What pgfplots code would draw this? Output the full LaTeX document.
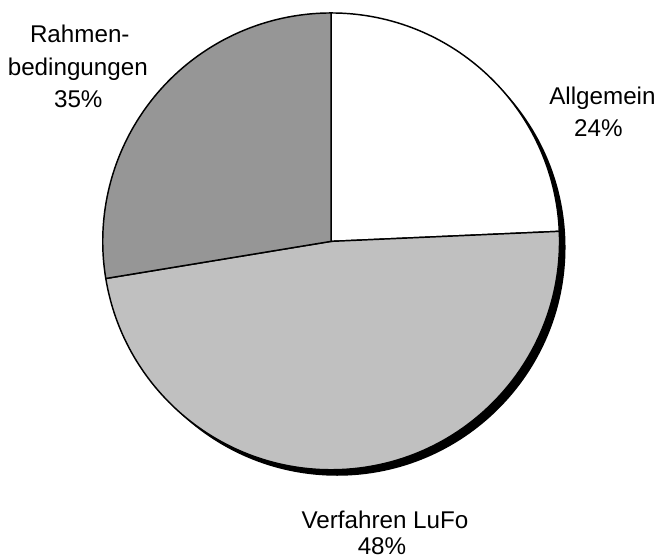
\documentclass[border=0pt]{standalone}
\usepackage{fontspec}
\setmainfont{Liberation Sans}
\usepackage{pgfplots}
\usepackage{pgfplotstable}
\pgfplotsset{compat=1.18}

\definecolor{sliceA}{RGB}{255,255,255}
\definecolor{sliceB}{RGB}{192,192,192}
\definecolor{sliceC}{RGB}{150,150,150}

% share of the circle (percent) per slice, clockwise from 12 o'clock
\pgfplotstableread{
share
24.3
48.1
27.6
}\piedata

\begin{document}
\begin{tikzpicture}
\pgfplotstablegetelem{0}{share}\of\piedata \let\sA\pgfplotsretval
\pgfplotstablegetelem{1}{share}\of\piedata \let\sB\pgfplotsretval
\pgfmathsetmacro\aA{90-3.6*\sA}
\pgfmathsetmacro\aB{\aA-3.6*\sB}
\def\R{171.75pt}
\tikzset{lbl/.style={anchor=base, font=\fontsize{18.2}{24}\selectfont}}
\begin{axis}[x=0.75pt, y=0.75pt, xmin=0, xmax=660, ymin=0, ymax=560,
    hide axis, clip=false]
\path (axis cs:0,0) rectangle (axis cs:660,560);
% shadow
\fill[black] (axis cs:338,312) circle[radius=\R];
\filldraw[fill=sliceA, draw=black, line width=1.1pt]
  (axis cs:332,318) -- ++(90:\R) arc[start angle=90, end angle=\aA, radius=\R] -- cycle;
\filldraw[fill=sliceB, draw=black, line width=1.1pt]
  (axis cs:332,318) -- ++(\aA:\R) arc[start angle=\aA, end angle=\aB, radius=\R] -- cycle;
\filldraw[fill=sliceC, draw=black, line width=1.1pt]
  (axis cs:332,318) -- ++(\aB:\R) arc[start angle=\aB, end angle=-270, radius=\R] -- cycle;
\node[lbl] at (axis cs:80,517) {Rahmen-};
\node[lbl] at (axis cs:78,484) {bedingungen};
\node[lbl] at (axis cs:78.5,452) {35\%};
\node[lbl] at (axis cs:604,455) {Allgemein};
\node[lbl] at (axis cs:600,423) {24\%};
\node[lbl] at (axis cs:386,30) {Verfahren LuFo};
\node[lbl] at (axis cs:383,4) {48\%};
\end{axis}
\end{tikzpicture}
\end{document}
